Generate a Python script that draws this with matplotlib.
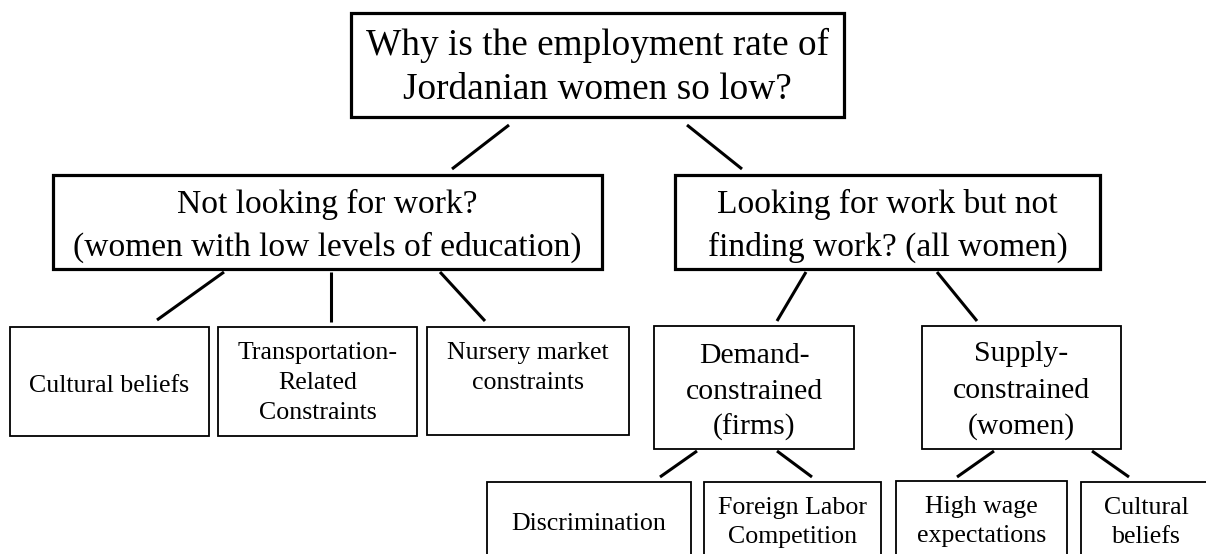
import matplotlib
matplotlib.use("Agg")
import matplotlib.pyplot as plt
from matplotlib.patches import Rectangle

# --- node labels (one string per text line) ---
ROOT = ["Why is the employment rate of", "Jordanian women so low?"]
LEVEL1 = [["Not looking for work?", "(women with low levels of education)"],
          ["Looking for work but not", "finding work? (all women)"]]
NOT_LOOKING = [["Cultural beliefs"],
               ["Transportation-", "Related", "Constraints"],
               ["Nursery market", "constraints"]]
LOOKING = [["Demand-", "constrained", "(firms)"],
           ["Supply-", "constrained", "(women)"]]
DEMAND = [["Discrimination"], ["Foreign Labor", "Competition"]]
SUPPLY = [["High wage", "expectations"], ["Cultural", "beliefs"]]

# --- layout in pixels: box (x0, y0, x1, y1), text baselines, font size, border width ---
W, H = 1206, 554
FONT = "Liberation Serif"
nodes = [
    (ROOT[0:2],        (351, 13, 844, 117),   [55, 99],        26.8, 2.3),
    (LEVEL1[0],        (53, 175, 602, 269),   [213, 256],      24.1, 2.3),
    (LEVEL1[1],        (675, 175, 1100, 269), [213, 256],      24.1, 2.3),
    (NOT_LOOKING[0],   (10, 327, 209, 436),   [392],           18.6, 1.3),
    (NOT_LOOKING[1],   (218, 327, 417, 436),  [359, 389, 419], 18.6, 1.3),
    (NOT_LOOKING[2],   (427, 327, 629, 435),  [359, 389],      18.6, 1.3),
    (LOOKING[0],       (654, 326, 854, 449),  [363, 399, 435], 21.4, 1.3),
    (LOOKING[1],       (922, 326, 1121, 449), [361, 398, 434], 21.4, 1.3),
    (DEMAND[0],        (487, 482, 691, 570),  [530],           18.6, 1.3),
    (DEMAND[1],        (704, 482, 881, 570),  [514, 543],      18.6, 1.3),
    (SUPPLY[0],        (896, 481, 1067, 570), [513, 542],      18.6, 1.3),
    (SUPPLY[1],        (1081, 482, 1211, 570), [514, 543],     18.6, 1.3),
]

# connector segments (x0, y0, x1, y1)
links = [
    (509, 125, 452, 169), (687, 125, 742, 169),
    (224, 272, 157, 320), (331, 272, 331, 322), (440, 272, 485, 321),
    (806, 272, 777, 321), (937, 272, 977, 321),
    (697, 451, 660, 477), (777, 451, 812, 477),
    (994, 451, 957, 477), (1092, 451, 1129, 477),
]

fig = plt.figure(figsize=(W / 100, H / 100), dpi=100)
ax = fig.add_axes([0, 0, 1, 1])
ax.set_xlim(0, W)
ax.set_ylim(H, 0)
ax.axis("off")

for lines, (x0, y0, x1, y1), bases, fs, lw in nodes:
    ax.add_patch(Rectangle((x0, y0), x1 - x0, y1 - y0, facecolor="white",
                           edgecolor="black", linewidth=lw, zorder=2))
    cx = (x0 + x1) / 2
    for txt, yb in zip(lines, bases):
        ax.text(cx, yb, txt, ha="center", va="baseline", fontsize=fs,
                family=FONT, color="black", zorder=3)

for x0, y0, x1, y1 in links:
    ax.plot([x0, x1], [y0, y1], color="black", linewidth=2.2,
            solid_capstyle="butt", zorder=1)

fig.savefig("out.png", dpi=100)
